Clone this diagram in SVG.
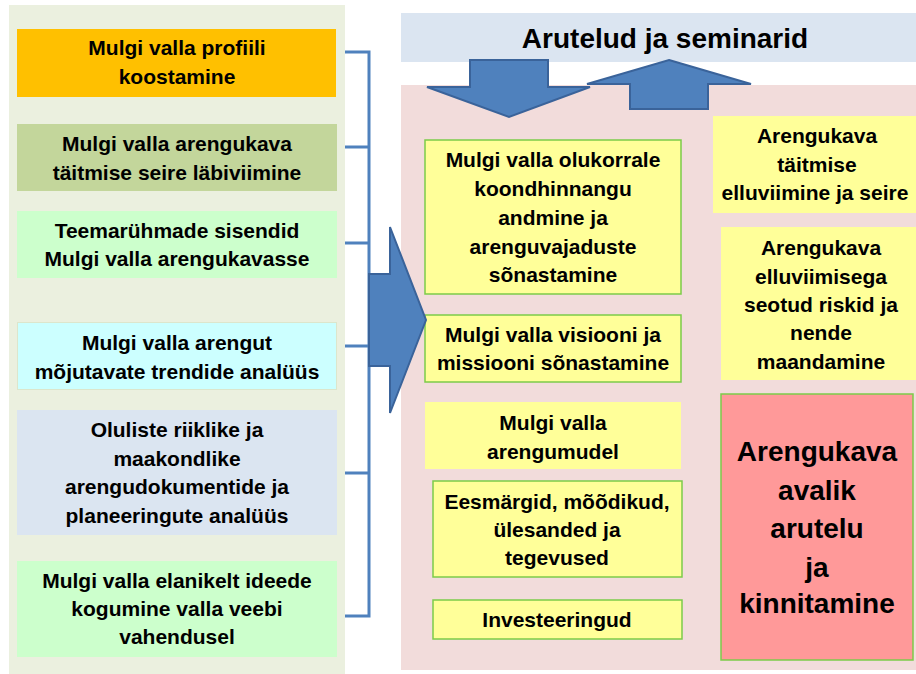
<svg xmlns="http://www.w3.org/2000/svg" width="916" height="674" viewBox="0 0 916 674">
<style>
text{font-family:"Liberation Sans",Arial,sans-serif;font-weight:bold;fill:#000;text-anchor:middle}
.t{font-size:21px}
.big{font-size:28px}
.yb{fill:#FFFF99;stroke:#7CCB4A;stroke-width:1.5}
.y{fill:#FFFF99}
.br{fill:none;stroke:#4F81BD;stroke-width:3}
.ar{fill:#4F81BD;stroke:#3A639A;stroke-width:2;stroke-linejoin:miter}
</style>
<rect width="916" height="674" fill="#FFFFFF"/>
<rect x="9" y="5" width="336" height="669" fill="#EBF0DF"/>
<rect x="401" y="13" width="515" height="49" fill="#DBE5F1"/>
<rect x="401" y="85" width="515" height="585" fill="#F2DCDB"/>

<g id="left-1"><rect x="17" y="29" width="319" height="68" fill="#FFC000"/>
<text class="t" x="177" y="55">Mulgi valla profiili</text><text class="t" x="177" y="84">koostamine</text></g>
<g id="left-2"><rect x="17" y="124" width="320" height="67" fill="#C3D69B"/>
<text class="t" x="177" y="151">Mulgi valla arengukava</text><text class="t" x="177" y="180">täitmise seire läbiviimine</text></g>
<g id="left-3"><rect x="17" y="211" width="320" height="67" fill="#CCFFCC"/>
<text class="t" x="177" y="238">Teemarühmade sisendid</text><text class="t" x="177" y="266">Mulgi valla arengukavasse</text></g>
<g id="left-4"><rect x="17.5" y="322.5" width="319" height="67" fill="#CCFFFF" stroke="#DCE6CC" stroke-width="1"/>
<text class="t" x="177" y="350">Mulgi valla arengut</text><text class="t" x="177" y="379">mõjutavate trendide analüüs</text></g>
<g id="left-5"><rect x="17" y="410" width="320" height="125" fill="#DBE5F1"/>
<text class="t" x="177" y="437">Oluliste riiklike ja</text><text class="t" x="177" y="466">maakondlike</text><text class="t" x="177" y="494">arengudokumentide ja</text><text class="t" x="177" y="523">planeeringute analüüs</text></g>
<g id="left-6"><rect x="17" y="561" width="320" height="96" fill="#CCFFCC"/>
<text class="t" x="177" y="588">Mulgi valla elanikelt ideede</text><text class="t" x="177" y="616">kogumine valla veebi</text><text class="t" x="177" y="644">vahendusel</text></g>

<g id="header"><text class="big" x="665" y="48">Arutelud ja seminarid</text></g>

<g id="mid-1"><rect class="yb" x="425" y="140" width="256" height="154"/>
<text class="t" x="553" y="167">Mulgi valla olukorrale</text><text class="t" x="553" y="196">koondhinnangu</text><text class="t" x="553" y="225">andmine ja</text><text class="t" x="553" y="254">arenguvajaduste</text><text class="t" x="553" y="282">sõnastamine</text></g>
<g id="mid-2"><rect class="yb" x="425" y="315" width="256" height="67"/>
<text class="t" x="553" y="342">Mulgi valla visiooni ja</text><text class="t" x="553" y="370">missiooni sõnastamine</text></g>
<g id="mid-3"><rect class="y" x="425" y="402" width="256" height="67"/>
<text class="t" x="553" y="430">Mulgi valla</text><text class="t" x="553" y="459">arengumudel</text></g>
<g id="mid-4"><rect class="yb" x="433" y="481" width="249" height="96"/>
<text class="t" x="557" y="509">Eesmärgid, mõõdikud,</text><text class="t" x="557" y="537">ülesanded ja</text><text class="t" x="557" y="565">tegevused</text></g>
<g id="mid-5"><rect class="yb" x="433" y="600" width="249" height="39"/>
<text class="t" x="557" y="627">Investeeringud</text></g>

<g id="right-1"><rect class="y" x="713" y="116" width="203" height="97"/>
<text class="t" x="817" y="143">Arengukava</text><text class="t" x="817" y="172">täitmise</text><text class="t" x="815" y="200">elluviimine ja seire</text></g>
<g id="right-2"><rect class="y" x="721" y="227" width="195" height="153"/>
<text class="t" x="821" y="255">Arengukava</text><text class="t" x="821" y="284">elluviimisega</text><text class="t" x="821" y="312">seotud riskid ja</text><text class="t" x="821" y="340">nende</text><text class="t" x="821" y="369">maandamine</text></g>
<g id="right-3"><rect x="721" y="394" width="192" height="266" fill="#FF9999" stroke="#7CCB4A" stroke-width="1.5"/>
<text class="big" x="817" y="461">Arengukava</text><text class="big" x="817" y="500">avalik</text><text class="big" x="817" y="538">arutelu</text><text class="big" x="817" y="577">ja</text><text class="big" x="817" y="613">kinnitamine</text></g>

<g id="connectors">
<path class="br" d="M345 52H369V616H345M345 147H369M345 243H369M345 346H369M345 473H369"/>
<polygon class="ar" points="369,274 390,274 390,227 426,320 390,413 390,366 369,366"/>
<polygon class="ar" points="470,60 548,60 548,87 590,87 509,117 427,87 470,87"/>
<polygon class="ar" points="669,60 751,84 708,84 708,109 630,109 630,84 587,84"/>
</g>
</svg>
